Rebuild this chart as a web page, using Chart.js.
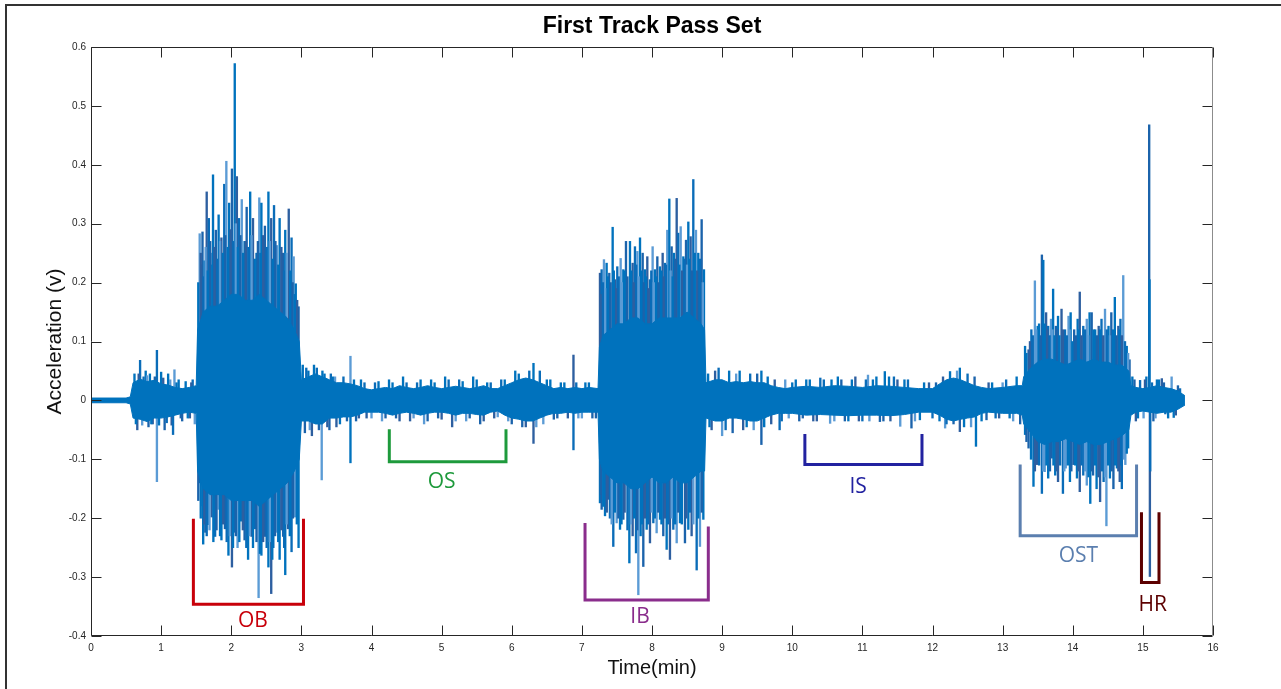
<!DOCTYPE html>
<html>
<head>
<meta charset="utf-8">
<title>First Track Pass Set</title>
<script src="https://cdn.jsdelivr.net/npm/chart.js@4.4.1/dist/chart.umd.min.js"></script>
<style>
  html, body { margin: 0; padding: 0; background: #fff; overflow: hidden; }
  #wrap { position: relative; width: 1281px; height: 689px; }
  #frame { position: absolute; left: 5px; top: 4px; width: 1300px; height: 700px;
           border-top: 2px solid #333; border-left: 2px solid #333; pointer-events: none; }
</style>
</head>
<body>
<div id="wrap">
  <canvas id="trackChart" width="1281" height="689"></canvas>
  <div id="frame"></div>
</div>
<script>
// Envelope of the dense vibration core (time in minutes, acceleration in volts)
const envTime = [
  0, 0.5, 0.56, 0.6, 0.7, 0.8, 0.9, 1.0, 1.1, 1.2, 1.3, 1.4, 1.5,
  1.52, 1.6, 1.7, 1.8, 1.9, 2.0, 2.1, 2.2, 2.3, 2.4, 2.5, 2.6, 2.7, 2.8, 2.9, 2.97,
  3.0, 3.1, 3.2, 3.3, 3.4, 3.5, 3.6, 3.7, 3.8, 3.9, 4.0, 4.1, 4.2, 4.3, 4.4, 4.5, 4.6, 4.7, 4.8, 4.9,
  5.0, 5.1, 5.2, 5.3, 5.4, 5.5, 5.6, 5.7, 5.8, 5.9, 6.0, 6.1, 6.2, 6.3, 6.4, 6.5, 6.6, 6.7, 6.8, 6.9,
  7.0, 7.1, 7.23,
  7.25, 7.3, 7.4, 7.5, 7.6, 7.7, 7.8, 7.9, 8.0, 8.1, 8.2, 8.3, 8.4, 8.5, 8.6, 8.7, 8.75,
  8.77, 8.9, 9.0, 9.1, 9.2, 9.3, 9.4, 9.5, 9.6, 9.7, 9.8, 9.9, 10.0,
  10.2, 10.4, 10.6, 10.8, 11.0, 11.2, 11.4, 11.6, 11.8,
  12.0, 12.1, 12.2, 12.3, 12.4, 12.5, 12.6, 12.7, 12.8, 13.0, 13.2, 13.28,
  13.3, 13.4, 13.5, 13.6, 13.7, 13.8, 13.9, 14.0, 14.1, 14.2, 14.3, 14.4, 14.5, 14.6, 14.7, 14.8,
  14.83, 14.9, 15.0, 15.1, 15.2, 15.3, 15.4, 15.5, 15.6
];
const envUpper = [
  0.004, 0.004, 0.006, 0.03, 0.036, 0.032, 0.034, 0.028, 0.026, 0.022, 0.02, 0.022, 0.025,
  0.12, 0.15, 0.16, 0.16, 0.17, 0.18, 0.18, 0.17, 0.17, 0.18, 0.17, 0.16, 0.15, 0.14, 0.12, 0.1,
  0.035, 0.04, 0.045, 0.04, 0.035, 0.03, 0.03, 0.028, 0.025, 0.02, 0.018, 0.02, 0.022, 0.02, 0.025, 0.022, 0.02, 0.022, 0.025, 0.022,
  0.02, 0.022, 0.024, 0.022, 0.02, 0.022, 0.025, 0.02, 0.02, 0.025, 0.03, 0.035, 0.038, 0.035, 0.03, 0.025, 0.02, 0.022, 0.02, 0.022,
  0.02, 0.022, 0.02,
  0.09, 0.11, 0.12, 0.13, 0.13, 0.14, 0.14, 0.13, 0.13, 0.14, 0.14, 0.14, 0.14, 0.15, 0.14, 0.13, 0.12,
  0.03, 0.035, 0.035, 0.03, 0.032, 0.03, 0.032, 0.03, 0.03, 0.025, 0.022, 0.02, 0.022,
  0.024, 0.022, 0.025, 0.024, 0.022, 0.025, 0.024, 0.022, 0.02,
  0.02, 0.028, 0.035, 0.038, 0.035, 0.03, 0.025, 0.022, 0.02, 0.022, 0.025, 0.025,
  0.04, 0.055, 0.065, 0.07, 0.07, 0.065, 0.06, 0.065, 0.07, 0.065, 0.07, 0.065, 0.065, 0.06, 0.06, 0.05,
  0.025, 0.022, 0.02, 0.022, 0.025, 0.022, 0.02, 0.016, 0.008
];
const envLower = [
  -0.004, -0.004, -0.006, -0.03, -0.032, -0.036, -0.03, -0.03, -0.028, -0.025, -0.022, -0.02, -0.022,
  -0.12, -0.15, -0.16, -0.16, -0.16, -0.17, -0.17, -0.17, -0.17, -0.18, -0.17, -0.16, -0.15, -0.14, -0.12, -0.1,
  -0.035, -0.035, -0.04, -0.04, -0.03, -0.03, -0.028, -0.028, -0.025, -0.02, -0.02, -0.02, -0.022, -0.025, -0.022, -0.02, -0.022, -0.025, -0.022, -0.02,
  -0.02, -0.022, -0.025, -0.022, -0.022, -0.024, -0.025, -0.02, -0.018, -0.025, -0.03, -0.032, -0.035, -0.035, -0.03, -0.025, -0.022, -0.022, -0.02, -0.022,
  -0.02, -0.02, -0.02,
  -0.1, -0.12, -0.13, -0.14, -0.14, -0.15, -0.15, -0.14, -0.13, -0.14, -0.14, -0.13, -0.14, -0.14, -0.13, -0.12, -0.12,
  -0.03, -0.035, -0.035, -0.03, -0.03, -0.032, -0.035, -0.035, -0.03, -0.025, -0.022, -0.022, -0.022,
  -0.025, -0.024, -0.025, -0.026, -0.025, -0.025, -0.026, -0.024, -0.02,
  -0.02, -0.025, -0.032, -0.035, -0.032, -0.03, -0.028, -0.022, -0.02, -0.022, -0.022, -0.025,
  -0.04, -0.055, -0.07, -0.075, -0.07, -0.07, -0.065, -0.07, -0.075, -0.07, -0.075, -0.075, -0.07, -0.065, -0.06, -0.05,
  -0.025, -0.02, -0.018, -0.02, -0.022, -0.02, -0.02, -0.015, -0.008
];

// Individual peaks sticking out of the core: [time (min), acceleration (v)]
const peaksQuiet = [
  [0.62, 0.045], [0.66, -0.05], [0.70, 0.068], [0.73, -0.042], [0.78, 0.05], [0.82, -0.045],
  [0.84, 0.045], [0.88, -0.04], [0.94, 0.085], [0.94, -0.138], [1.0, 0.048], [1.05, -0.05],
  [1.1, 0.045], [1.15, -0.042], [1.17, -0.058], [1.19, 0.052], [1.25, 0.035], [1.3, -0.035],
  [1.35, 0.032], [1.41, -0.03], [1.45, 0.035], [1.48, -0.04],
  [3.02, 0.06], [3.05, -0.055], [3.1, 0.05], [3.15, -0.06], [3.22, 0.055], [3.29, -0.135],
  [3.33, 0.045], [3.4, -0.05], [3.45, 0.04], [3.5, -0.045], [3.6, 0.04], [3.7, 0.075],
  [3.7, -0.106], [3.78, -0.035], [3.85, 0.035], [3.93, -0.03],
  [4.05, 0.03], [4.15, -0.035], [4.25, 0.035], [4.35, -0.03], [4.45, 0.04], [4.55, -0.035],
  [4.65, 0.03], [4.75, -0.04], [4.85, 0.035], [4.95, -0.03], [5.05, 0.04], [5.15, -0.045],
  [5.25, 0.035], [5.35, -0.035], [5.45, 0.04], [5.55, -0.04], [5.65, 0.03], [5.75, -0.03],
  [5.85, 0.035], [5.95, -0.035], [6.05, 0.05], [6.15, -0.045], [6.31, 0.063], [6.31, -0.073],
  [6.4, 0.05], [6.45, -0.04], [6.55, 0.035], [6.65, -0.03], [6.75, 0.03], [6.88, 0.077],
  [6.88, -0.084], [6.95, -0.03], [7.05, 0.03], [7.15, -0.03],
  [8.8, 0.045], [8.85, -0.05], [8.95, 0.055], [9.0, -0.06], [9.1, 0.05], [9.15, -0.055],
  [9.25, 0.05], [9.3, -0.05], [9.4, 0.045], [9.45, -0.05], [9.56, 0.05], [9.56, -0.075],
  [9.65, 0.04], [9.7, -0.04], [9.82, -0.05], [9.9, 0.035],
  [10.0, 0.03], [10.1, -0.035], [10.2, 0.035], [10.3, -0.035], [10.4, 0.038], [10.54, -0.039],
  [10.56, 0.035], [10.7, 0.035], [10.8, -0.035], [10.9, 0.04], [11.0, -0.035], [11.08, 0.043],
  [11.15, 0.035], [11.25, -0.036], [11.32, 0.049], [11.4, -0.035], [11.45, 0.04], [11.54, -0.044],
  [11.6, 0.035], [11.7, -0.047], [11.82, -0.033], [11.95, 0.03], [12.0, -0.03],
  [12.18, -0.047], [12.25, 0.049], [12.3, -0.04], [12.39, 0.055], [12.39, -0.053], [12.5, 0.045],
  [12.55, -0.045], [12.62, -0.078], [12.77, -0.033], [12.85, 0.03], [12.95, -0.03], [13.05, 0.035],
  [13.15, -0.035], [13.2, 0.04], [13.25, -0.04],
  [14.85, 0.04], [14.9, -0.035], [14.96, 0.034], [15.01, -0.03], [15.05, 0.04], [15.15, -0.035],
  [15.2, 0.035], [15.27, 0.037], [15.32, -0.023], [15.41, 0.04], [15.44, -0.029], [15.5, 0.025]
];
// Fine fuzz along the low-level stretches between the bursts
const fuzzQuiet = [
  [0.64, -0.04], [0.68, 0.045], [0.75, 0.04], [0.80, 0.042], [0.86, -0.04], [0.91, 0.04],
  [0.97, -0.042], [1.03, 0.038], [1.08, -0.038], [1.13, 0.035], [1.22, 0.03], [1.28, -0.03],
  [1.38, -0.03], [1.43, 0.03],
  [3.07, 0.055], [3.12, -0.05], [3.18, 0.06], [3.25, -0.05], [3.3, 0.05], [3.37, -0.045],
  [3.42, 0.045], [3.48, 0.04], [3.55, -0.04], [3.65, -0.035], [3.75, 0.035], [3.82, -0.03],
  [3.9, 0.03], [4.0, -0.03], [4.1, 0.032], [4.2, -0.03], [4.3, 0.03], [4.4, -0.035],
  [4.5, 0.03], [4.6, -0.03], [4.7, 0.035], [4.8, -0.035], [4.9, 0.03], [5.0, -0.032],
  [5.1, 0.035], [5.2, -0.035], [5.3, 0.032], [5.4, -0.03], [5.5, 0.035], [5.6, -0.035],
  [5.7, 0.03], [5.8, -0.028], [5.9, 0.035], [6.0, -0.04], [6.1, 0.045], [6.2, -0.045],
  [6.25, 0.05], [6.35, -0.045], [6.5, 0.035], [6.6, -0.032], [6.7, 0.03], [6.8, -0.03],
  [6.92, 0.03], [7.0, -0.03], [7.1, 0.03], [7.2, -0.03],
  [8.82, -0.045], [8.9, 0.05], [9.05, -0.05], [9.2, 0.045], [9.35, -0.045], [9.5, 0.045],
  [9.6, -0.045], [9.75, 0.035], [9.85, -0.035], [9.95, -0.03], [10.05, 0.035], [10.15, -0.03],
  [10.25, 0.035], [10.35, -0.035], [10.45, 0.035], [10.6, -0.035], [10.65, 0.04], [10.75, -0.035],
  [10.85, 0.035], [10.95, -0.035], [11.05, 0.035], [11.1, -0.035], [11.2, 0.04], [11.3, -0.035],
  [11.38, 0.04], [11.5, 0.035], [11.65, 0.035], [11.75, -0.035], [11.88, 0.03], [12.05, 0.03],
  [12.1, -0.035], [12.15, 0.04], [12.2, -0.04], [12.35, 0.05], [12.45, -0.045], [12.6, 0.04],
  [12.7, -0.035], [12.8, 0.03], [12.9, -0.03], [13.0, 0.03], [13.1, -0.03],
  [14.88, 0.035], [14.93, -0.03], [15.03, 0.035], [15.13, 0.03], [15.18, -0.03], [15.23, 0.035],
  [15.3, 0.03], [15.36, -0.03], [15.47, -0.025], [15.53, 0.02]
];
const peaksOB = [
  [1.55, 0.283], [1.58, 0.23], [1.59, 0.286], [1.62, 0.237], [1.65, 0.354], [1.68, 0.309],
  [1.72, 0.25], [1.74, 0.383], [1.78, 0.289], [1.82, 0.315], [1.86, 0.276], [1.90, 0.367],
  [1.93, 0.406], [1.97, 0.335], [2.01, 0.393], [2.05, 0.572], [2.08, 0.38], [2.11, 0.309],
  [2.15, 0.341], [2.19, 0.27], [2.22, 0.328], [2.27, 0.354], [2.31, 0.309], [2.36, 0.25],
  [2.40, 0.344], [2.43, 0.335], [2.48, 0.296], [2.53, 0.354], [2.57, 0.309], [2.61, 0.331],
  [2.65, 0.263], [2.69, 0.309], [2.74, 0.25], [2.77, 0.289], [2.82, 0.325], [2.86, 0.276],
  [2.89, 0.244], [2.92, 0.198], [2.96, 0.159],
  [1.53, 0.2], [1.565, 0.25], [1.605, 0.21], [1.635, 0.26], [1.665, 0.22], [1.70, 0.27],
  [1.73, 0.23], [1.76, 0.26], [1.80, 0.24], [1.84, 0.27], [1.88, 0.25], [1.915, 0.28],
  [1.95, 0.26], [1.99, 0.29], [2.03, 0.27], [2.065, 0.3], [2.095, 0.26], [2.13, 0.28],
  [2.17, 0.25], [2.205, 0.27], [2.245, 0.26], [2.29, 0.28], [2.335, 0.24], [2.38, 0.27],
  [2.415, 0.25], [2.455, 0.28], [2.505, 0.26], [2.55, 0.27], [2.59, 0.24], [2.63, 0.27],
  [2.67, 0.23], [2.715, 0.26], [2.755, 0.22], [2.79, 0.25], [2.84, 0.22], [2.875, 0.2],
  [2.905, 0.18], [2.94, 0.17],
  [1.55, -0.14], [1.58, -0.179], [1.60, -0.244], [1.63, -0.224], [1.67, -0.211], [1.72, -0.198],
  [1.77, -0.231], [1.82, -0.185], [1.86, -0.237], [1.91, -0.218], [1.96, -0.263], [2.01, -0.283],
  [2.04, -0.224], [2.09, -0.25], [2.14, -0.205], [2.19, -0.237], [2.24, -0.27], [2.29, -0.231],
  [2.34, -0.218], [2.39, -0.335], [2.43, -0.263], [2.48, -0.231], [2.53, -0.283], [2.57, -0.328],
  [2.60, -0.25], [2.65, -0.224], [2.69, -0.27], [2.74, -0.231], [2.77, -0.296], [2.81, -0.218],
  [2.86, -0.257], [2.91, -0.198], [2.96, -0.25],
  [1.53, -0.17], [1.565, -0.2], [1.615, -0.21], [1.65, -0.23], [1.69, -0.22], [1.745, -0.24],
  [1.79, -0.22], [1.84, -0.23], [1.885, -0.21], [1.935, -0.24], [1.98, -0.23], [2.025, -0.25],
  [2.065, -0.23], [2.115, -0.24], [2.165, -0.22], [2.215, -0.25], [2.265, -0.23], [2.31, -0.25],
  [2.36, -0.24], [2.41, -0.26], [2.455, -0.24], [2.505, -0.25], [2.55, -0.24], [2.585, -0.27],
  [2.625, -0.23], [2.67, -0.24], [2.715, -0.22], [2.755, -0.25], [2.79, -0.21], [2.835, -0.23],
  [2.88, -0.2], [2.935, -0.21]
];
const peaksIB = [
  [7.258, 0.216], [7.282, 0.222], [7.315, 0.239], [7.353, 0.233], [7.391, 0.216], [7.439, 0.294],
  [7.472, 0.205], [7.505, 0.227], [7.553, 0.241], [7.591, 0.222], [7.629, 0.27], [7.686, 0.27],
  [7.724, 0.233], [7.757, 0.261], [7.791, 0.253], [7.829, 0.276], [7.867, 0.25], [7.900, 0.222],
  [7.933, 0.244], [7.971, 0.205], [8.009, 0.261], [8.043, 0.222], [8.076, 0.244], [8.114, 0.227],
  [8.152, 0.25], [8.185, 0.233], [8.218, 0.289], [8.247, 0.342], [8.280, 0.261], [8.313, 0.25],
  [8.352, 0.343], [8.375, 0.284], [8.409, 0.295], [8.447, 0.244], [8.485, 0.272], [8.518, 0.303],
  [8.551, 0.278], [8.589, 0.375], [8.627, 0.289], [8.660, 0.25], [8.708, 0.307], [8.741, 0.222],
  [7.27, 0.18], [7.30, 0.2], [7.335, 0.19], [7.37, 0.21], [7.41, 0.2], [7.455, 0.22],
  [7.49, 0.19], [7.525, 0.21], [7.57, 0.2], [7.61, 0.22], [7.65, 0.21], [7.705, 0.22],
  [7.74, 0.2], [7.775, 0.23], [7.81, 0.21], [7.85, 0.22], [7.885, 0.2], [7.915, 0.21],
  [7.955, 0.19], [7.99, 0.22], [8.025, 0.2], [8.06, 0.21], [8.095, 0.2], [8.135, 0.22],
  [8.17, 0.21], [8.2, 0.23], [8.265, 0.22], [8.295, 0.21], [8.33, 0.24], [8.39, 0.23],
  [8.43, 0.22], [8.465, 0.24], [8.50, 0.23], [8.535, 0.24], [8.57, 0.22], [8.61, 0.25],
  [8.645, 0.22], [8.685, 0.24], [8.725, 0.2],
  [7.258, -0.174], [7.282, -0.185], [7.330, -0.196], [7.377, -0.168], [7.448, -0.248], [7.496, -0.208],
  [7.544, -0.219], [7.591, -0.202], [7.677, -0.276], [7.724, -0.23], [7.772, -0.259], [7.805, -0.33],
  [7.838, -0.23], [7.876, -0.282], [7.924, -0.219], [7.971, -0.242], [8.019, -0.208], [8.066, -0.225],
  [8.114, -0.202], [8.161, -0.23], [8.209, -0.253], [8.256, -0.27], [8.304, -0.219], [8.352, -0.242],
  [8.399, -0.208], [8.470, -0.242], [8.518, -0.219], [8.565, -0.23], [8.637, -0.288], [8.684, -0.248],
  [8.732, -0.202],
  [7.27, -0.16], [7.305, -0.18], [7.355, -0.19], [7.40, -0.2], [7.425, -0.21], [7.47, -0.19],
  [7.52, -0.2], [7.565, -0.21], [7.61, -0.19], [7.65, -0.22], [7.70, -0.21], [7.745, -0.2],
  [7.79, -0.22], [7.855, -0.21], [7.90, -0.2], [7.945, -0.21], [7.995, -0.19], [8.04, -0.2],
  [8.09, -0.19], [8.135, -0.21], [8.185, -0.2], [8.23, -0.21], [8.28, -0.2], [8.33, -0.21],
  [8.375, -0.19], [8.425, -0.21], [8.49, -0.2], [8.54, -0.19], [8.59, -0.21], [8.66, -0.2],
  [8.71, -0.19]
];
const peaksOST = [
  [13.32, 0.092], [13.37, 0.086], [13.41, 0.12], [13.46, 0.203], [13.50, 0.126], [13.56, 0.247],
  [13.58, 0.238], [13.62, 0.149], [13.65, 0.126], [13.69, 0.138], [13.72, 0.189], [13.76, 0.126],
  [13.79, 0.143], [13.84, 0.155], [13.89, 0.12], [13.94, 0.143], [13.97, 0.149], [14.02, 0.12],
  [14.07, 0.138], [14.10, 0.184], [14.15, 0.126], [14.20, 0.138], [14.24, 0.149], [14.27, 0.149],
  [14.32, 0.12], [14.37, 0.126], [14.41, 0.138], [14.46, 0.155], [14.51, 0.126], [14.55, 0.149],
  [14.60, 0.175], [14.65, 0.126], [14.68, 0.138], [14.72, 0.212], [14.77, 0.092], [14.81, 0.069],
  [13.34, 0.08], [13.39, 0.1], [13.43, 0.11], [13.48, 0.12], [13.52, 0.13], [13.54, 0.11],
  [13.60, 0.13], [13.64, 0.12], [13.67, 0.11], [13.71, 0.12], [13.74, 0.11], [13.78, 0.12],
  [13.81, 0.11], [13.86, 0.12], [13.915, 0.11], [13.955, 0.12], [13.995, 0.1], [14.045, 0.11],
  [14.085, 0.12], [14.125, 0.11], [14.175, 0.12], [14.22, 0.11], [14.295, 0.12], [14.345, 0.11],
  [14.39, 0.12], [14.435, 0.11], [14.485, 0.12], [14.53, 0.11], [14.575, 0.12], [14.625, 0.11],
  [14.665, 0.12], [14.70, 0.11], [14.745, 0.1], [14.79, 0.08],
  [13.32, -0.058], [13.37, -0.081], [13.44, -0.146], [13.49, -0.109], [13.56, -0.158], [13.60, -0.121],
  [13.65, -0.132], [13.70, -0.098], [13.75, -0.127], [13.79, -0.138], [13.86, -0.158], [13.90, -0.115],
  [13.96, -0.138], [14.01, -0.109], [14.06, -0.132], [14.10, -0.155], [14.15, -0.127], [14.20, -0.144],
  [14.25, -0.175], [14.29, -0.127], [14.34, -0.15], [14.39, -0.172], [14.44, -0.138], [14.48, -0.213],
  [14.53, -0.132], [14.58, -0.15], [14.63, -0.115], [14.67, -0.138], [14.70, -0.15], [14.75, -0.109],
  [14.79, -0.081],
  [13.34, -0.07], [13.405, -0.1], [13.46, -0.12], [13.52, -0.11], [13.58, -0.12], [13.625, -0.11],
  [13.675, -0.12], [13.725, -0.11], [13.77, -0.12], [13.82, -0.11], [13.88, -0.12], [13.93, -0.11],
  [13.98, -0.12], [14.035, -0.11], [14.08, -0.12], [14.125, -0.11], [14.175, -0.12], [14.225, -0.13],
  [14.27, -0.12], [14.315, -0.11], [14.365, -0.13], [14.415, -0.12], [14.46, -0.13], [14.505, -0.11],
  [14.555, -0.12], [14.605, -0.11], [14.65, -0.12], [14.69, -0.11], [14.73, -0.1], [14.77, -0.09]
];
const peaksHR = [[15.09, 0.468], [15.095, 0.205], [15.10, -0.299], [15.105, -0.12]];

// Tick values
const timeTicks = [0, 1, 2, 3, 4, 5, 6, 7, 8, 9, 10, 11, 12, 13, 14, 15, 16];
const accelTicks = [-0.4, -0.3, -0.2, -0.1, 0, 0.1, 0.2, 0.3, 0.4, 0.5, 0.6];

// Test sections marked under the trace
const sectionNames = ['OB', 'OS', 'IB', 'IS', 'OST', 'HR'];

// Bracket geometry and colours for each section, in axis units
const sectionLayout = {
  OB:  { color: '#C8000A', left: 1.46, right: 3.03, topL: -0.201, topR: -0.201, bottom: -0.346, label: [2.31, -0.375] },
  OS:  { color: '#1E9A3C', left: 4.254, right: 5.918, topL: -0.049, topR: -0.049, bottom: -0.104, label: [5.0, -0.139] },
  IB:  { color: '#8A2D8C', left: 7.045, right: 8.803, topL: -0.208, topR: -0.214, bottom: -0.339, label: [7.83, -0.368] },
  IS:  { color: '#2222A0', left: 10.18, right: 11.85, topL: -0.057, topR: -0.057, bottom: -0.109, label: [10.94, -0.147] },
  OST: { color: '#5B7FAF', left: 13.25, right: 14.91, topL: -0.109, topR: -0.109, bottom: -0.23, label: [14.08, -0.265] },
  HR:  { color: '#5C0000', left: 14.98, right: 15.23, topL: -0.19, topR: -0.19, bottom: -0.309, label: [15.14, -0.348] }
};

const SIGNAL = '#0072BD';
const peakColors = ['#0072BD', '#2D5FA0', '#0A6CB8', '#5B9BD5', '#0072BD', '#1B63AB'];
const AXIS_FONT = '"Liberation Sans", Arial, sans-serif';

// Box around the axes with MATLAB-style inward ticks
const boxAxes = {
  id: 'boxAxes',
  afterDraw(chart) {
    const { ctx, chartArea: a, scales: { x, y } } = chart;
    const L = Math.round(a.left) + 0.5, R = Math.round(a.right) - 0.5;
    const T = Math.round(a.top) + 0.5, B = Math.round(a.bottom) - 0.5;
    ctx.save();
    ctx.lineWidth = 1;
    ctx.strokeStyle = '#262626';
    ctx.beginPath();
    ctx.moveTo(R, T); ctx.lineTo(L, T); ctx.lineTo(L, B); ctx.lineTo(R, B);
    timeTicks.forEach(v => {
      const px = Math.round(x.getPixelForValue(v)) + 0.5;
      ctx.moveTo(px, B); ctx.lineTo(px, B - 10);
      ctx.moveTo(px, T); ctx.lineTo(px, T + 10);
    });
    accelTicks.forEach(v => {
      const py = Math.round(y.getPixelForValue(v)) + 0.5;
      ctx.moveTo(L, py); ctx.lineTo(L + 10, py);
      ctx.moveTo(R, py); ctx.lineTo(R - 10, py);
    });
    ctx.stroke();
    ctx.strokeStyle = '#8c8c8c';
    ctx.beginPath();
    ctx.moveTo(R, T); ctx.lineTo(R, B);
    ctx.stroke();
    ctx.restore();
  }
};

// Section names under each bracket
const sectionLabels = {
  id: 'sectionLabels',
  afterDatasetsDraw(chart) {
    const { ctx, scales: { x, y } } = chart;
    ctx.save();
    ctx.font = '21px "Open Sans", "Noto Sans", sans-serif';
    ctx.textAlign = 'center';
    ctx.textBaseline = 'middle';
    sectionNames.forEach(name => {
      const s = sectionLayout[name];
      ctx.fillStyle = s.color;
      ctx.fillText(name, x.getPixelForValue(s.label[0]), y.getPixelForValue(s.label[1]));
    });
    ctx.restore();
  }
};

const allPeaks = peaksQuiet.concat(fuzzQuiet, peaksOB, peaksIB, peaksOST, peaksHR);

const bracketSets = sectionNames.map(name => {
  const s = sectionLayout[name];
  return {
    label: name,
    data: [
      { x: s.left, y: s.topL }, { x: s.left, y: s.bottom },
      { x: s.right, y: s.bottom }, { x: s.right, y: s.topR }
    ],
    borderColor: s.color,
    borderWidth: 3,
    borderJoinStyle: 'miter',
    pointRadius: 0,
    fill: false,
    order: 0
  };
});

new Chart(document.getElementById('trackChart'), {
  type: 'line',
  data: {
    datasets: [
      {
        label: 'core upper',
        data: envTime.map((t, i) => ({ x: t, y: envUpper[i] })),
        borderColor: SIGNAL,
        backgroundColor: SIGNAL,
        borderWidth: 1,
        pointRadius: 0,
        tension: 0,
        fill: '+1',
        order: 1
      },
      {
        label: 'core lower',
        data: envTime.map((t, i) => ({ x: t, y: envLower[i] })),
        borderColor: SIGNAL,
        borderWidth: 1,
        pointRadius: 0,
        tension: 0,
        fill: false,
        order: 1
      },
      {
        type: 'bar',
        label: 'peaks',
        data: allPeaks.map(p => ({ x: p[0], y: [0, p[1]] })),
        backgroundColor: c => peakColors[c.dataIndex % peakColors.length],
        borderWidth: 0,
        barThickness: 1.7,
        order: 2
      },
      ...bracketSets
    ]
  },
  options: {
    responsive: false,
    animation: false,
    events: [],
    layout: { padding: { left: 0, right: 68, top: 0, bottom: 0 } },
    plugins: {
      legend: { display: false },
      tooltip: { enabled: false },
      title: {
        display: true,
        text: 'First Track Pass Set',
        fullSize: false,
        color: '#000',
        font: { family: AXIS_FONT, size: 23, weight: 'bold' },
        padding: { top: 13, bottom: 6.4 }
      }
    },
    scales: {
      x: {
        type: 'linear',
        min: 0,
        max: 16,
        offset: false,
        grid: { display: false, drawTicks: false },
        border: { display: false },
        ticks: {
          stepSize: 1,
          autoSkip: false,
          maxRotation: 0,
          padding: 6,
          color: '#262626',
          font: { family: AXIS_FONT, size: 10 }
        },
        title: {
          display: true,
          text: 'Time(min)',
          color: '#111',
          font: { family: AXIS_FONT, size: 20 },
          padding: { top: 0, bottom: 9 }
        },
        afterFit: s => { s.height = 53; }
      },
      y: {
        type: 'linear',
        min: -0.4,
        max: 0.6,
        grid: { display: false, drawTicks: false },
        border: { display: false },
        ticks: {
          stepSize: 0.1,
          padding: 5,
          color: '#262626',
          font: { family: AXIS_FONT, size: 10 },
          callback: v => {
            const r = Math.round(v * 10) / 10;
            return r === 0 ? '0' : String(r);
          }
        },
        title: {
          display: true,
          text: 'Acceleration (v)',
          color: '#111',
          font: { family: AXIS_FONT, size: 21 },
          padding: { top: 43, bottom: 0 }
        },
        afterFit: s => { s.width = 91; }
      }
    }
  },
  plugins: [boxAxes, sectionLabels]
});
</script>
</body>
</html>
